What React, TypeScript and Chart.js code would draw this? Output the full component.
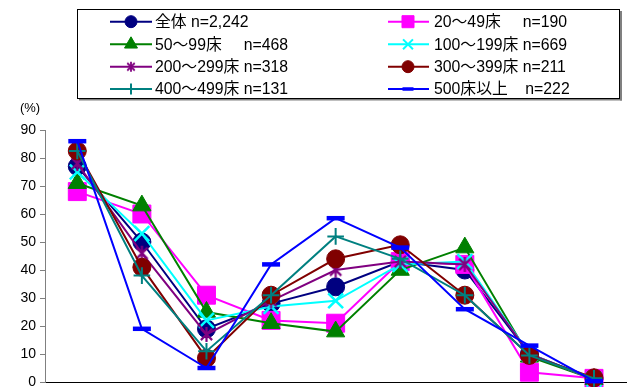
import React, { useEffect, useRef } from 'react';
import { Chart, registerables } from 'chart.js';
import { drawPoint } from 'chart.js/helpers';

Chart.register(...registerables);

// Survey categories (axis labels sit below the visible area)
const categories = ['1', '2', '3', '4', '5', '6', '7', '8', '9'];
const yTicks = [0, 10, 20, 30, 40, 50, 60, 70, 80, 90];

const seriesLabels = [
  '全体 n=2,242',
  '20〜49床     n=190',
  '50〜99床     n=468',
  '100〜199床 n=669',
  '200〜299床 n=318',
  '300〜399床 n=211',
  '400〜499床 n=131',
  '500床以上    n=222',
];

// Percentages per hospital size group
const total = [77, 50, 19, 28, 34, 43, 40, 10, 1];
const beds20to49 = [68, 60, 31, 22, 21, 43, 42, 3.5, 1.3];
const beds50to99 = [71, 63, 25, 21, 18, 40, 48, 9, 1];
const beds100to199 = [75, 53, 22, 27, 29, 42, 43, 10, 1];
const beds200to299 = [78, 46, 17, 29, 40, 43, 42, 10, 1];
const beds300to399 = [82.5, 41, 8.5, 31, 44, 49, 31, 9.5, 1.5];
const beds400to499 = [82.5, 38, 11, 31, 52, 44, 31, 9.5, 1.3];
const beds500plus = [86, 19, 5, 42, 58.5, 48, 26, 13, 0.3];

const seriesValues = [
  total, beds20to49, beds50to99, beds100to199,
  beds200to299, beds300to399, beds400to499, beds500plus,
];

const colors = ['#000080', '#FF00FF', '#008000', '#00FFFF', '#800080', '#800000', '#008080', '#0000FF'];

const FONT = '"Liberation Sans", Arial, "Noto Sans CJK JP", sans-serif';

function makeStar(size: number, color: string, lw: number) {
  const c = document.createElement('canvas');
  c.width = size;
  c.height = size;
  const g = c.getContext('2d')!;
  g.strokeStyle = color;
  g.lineWidth = lw;
  const m = size / 2;
  const r = size / 2 - 1;
  const d = r * 0.75;
  g.beginPath();
  g.moveTo(m, m - r);
  g.lineTo(m, m + r);
  g.moveTo(m - d, m - d);
  g.lineTo(m + d, m + d);
  g.moveTo(m + d, m - d);
  g.lineTo(m - d, m + d);
  g.stroke();
  return c;
}

type MarkerSpec = { style: any; radius: number; border: number };

export default function App() {
  const ref = useRef<HTMLCanvasElement>(null);

  useEffect(() => {
    const starBig = makeStar(17, colors[4], 2.2);
    const starSmall = makeStar(12, colors[4], 1.8);

    const chartMarkers: MarkerSpec[] = [
      { style: 'circle', radius: 9, border: 1 },
      { style: 'rect', radius: 12.7, border: 1 },
      { style: 'triangle', radius: 10.5, border: 1 },
      { style: 'crossRot', radius: 10.5, border: 2.5 },
      { style: starBig, radius: 8, border: 2 },
      { style: 'circle', radius: 9, border: 1 },
      { style: 'cross', radius: 8.3, border: 2 },
      { style: 'line', radius: 9, border: 4.5 },
    ];
    const legendMarkers: MarkerSpec[] = [
      { style: 'circle', radius: 6, border: 1 },
      { style: 'rect', radius: 8.5, border: 1 },
      { style: 'triangle', radius: 7.5, border: 1 },
      { style: 'crossRot', radius: 7, border: 2 },
      { style: starSmall, radius: 6, border: 1.8 },
      { style: 'circle', radius: 6, border: 1 },
      { style: 'cross', radius: 5.5, border: 2 },
      { style: 'line', radius: 5.5, border: 3.5 },
    ];

    const boxLegend = {
      id: 'boxLegend',
      afterDraw(chart: Chart) {
        const ctx = chart.ctx;
        ctx.save();
        // frame with a grey drop shadow
        ctx.fillStyle = '#808080';
        ctx.fillRect(79, 98.5, 543, 2);
        ctx.fillRect(620, 11, 2, 89.5);
        ctx.strokeStyle = '#000';
        ctx.lineWidth = 1;
        ctx.strokeRect(77.5, 9.5, 542, 89);

        const rowsY = [21.7, 44.3, 66.7, 89];
        const cols = [
          { x0: 110, x1: 152, mx: 131, tx: 155 },
          { x0: 388, x1: 429, mx: 408, tx: 434 },
        ];
        seriesLabels.forEach((label, i) => {
          const col = cols[i % 2];
          const y = rowsY[Math.floor(i / 2)];
          ctx.strokeStyle = colors[i];
          ctx.lineWidth = 2;
          ctx.beginPath();
          ctx.moveTo(col.x0, y);
          ctx.lineTo(col.x1, y);
          ctx.stroke();
          const mk = legendMarkers[i];
          ctx.fillStyle = colors[i];
          ctx.strokeStyle = colors[i];
          ctx.lineWidth = mk.border;
          drawPoint(ctx, { pointStyle: mk.style, radius: mk.radius, borderWidth: mk.border, rotation: 0 } as any, col.mx, y);
          ctx.fillStyle = '#000';
          ctx.font = `15.8px ${FONT}`;
          ctx.textAlign = 'left';
          ctx.textBaseline = 'middle';
          ctx.fillText(label, col.tx, y + 1);
        });

        // unit label above the value axis
        ctx.font = `13px ${FONT}`;
        ctx.textAlign = 'center';
        ctx.fillText('(%)', 30, 108);
        ctx.restore();
      },
    };

    const chart = new Chart(ref.current!, {
      type: 'line',
      data: {
        labels: categories,
        datasets: seriesValues.map((vals, i) => ({
          label: seriesLabels[i],
          data: vals,
          borderColor: colors[i],
          backgroundColor: colors[i],
          borderWidth: 2,
          pointStyle: chartMarkers[i].style,
          pointRadius: chartMarkers[i].radius,
          pointBorderWidth: chartMarkers[i].border,
          pointBackgroundColor: colors[i],
          pointBorderColor: colors[i],
          tension: 0,
          clip: false as any,
          order: 7 - i,
        })),
      },
      options: {
        responsive: false,
        animation: false,
        events: [],
        layout: { padding: { left: 0, top: 130, right: 9, bottom: 38 } },
        plugins: { legend: { display: false }, tooltip: { enabled: false } },
        scales: {
          x: {
            type: 'category',
            offset: true,
            ticks: { display: false },
            grid: { display: false },
            border: { display: true, color: '#000', width: 1 },
            afterFit: (s: any) => { s.height = 0; },
          },
          y: {
            min: 0,
            max: 90,
            afterBuildTicks: (s: any) => { s.ticks = yTicks.map((v) => ({ value: v })); },
            ticks: { color: '#000', font: { family: FONT, size: 14 }, padding: 4 },
            grid: { drawOnChartArea: false, drawTicks: true, tickLength: 5, color: '#808080' },
            border: { display: true, color: '#808080', width: 1 },
            afterFit: (s: any) => { s.width = 45; },
          },
        },
      },
      plugins: [boxLegend],
    });
    return () => chart.destroy();
  }, []);

  return (
    <div style={{ position: 'fixed', left: 0, top: 0, width: 627, height: 387, overflow: 'hidden', background: '#fff' }}>
      <canvas ref={ref} width={640} height={420} style={{ display: 'block' }} />
    </div>
  );
}
